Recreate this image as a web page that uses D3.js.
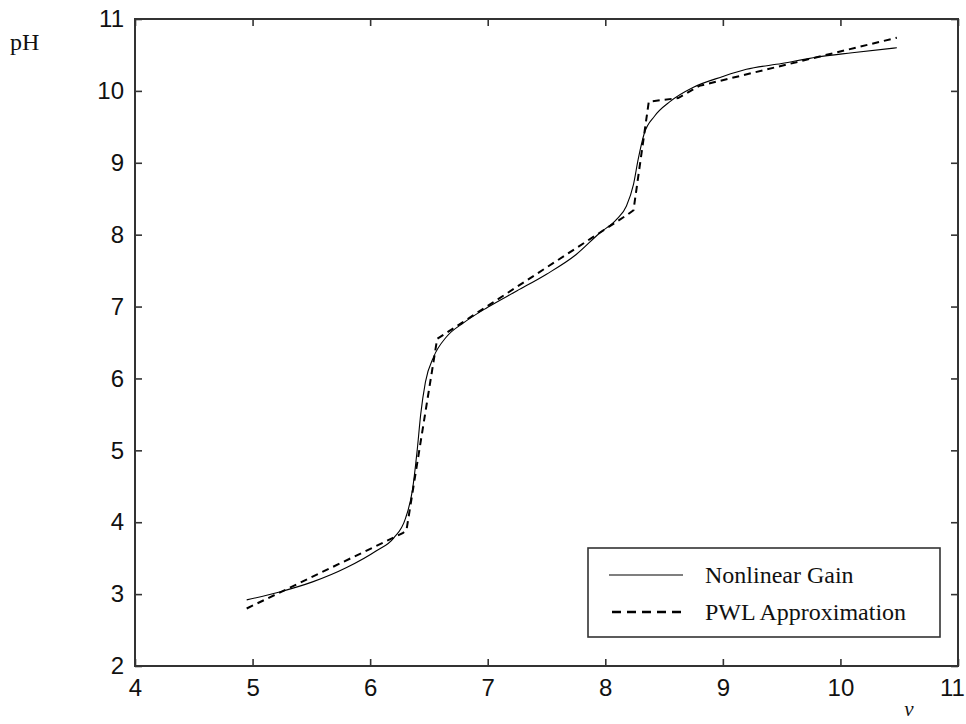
<!DOCTYPE html>
<html>
<head>
<meta charset="utf-8">
<script src="https://cdn.jsdelivr.net/npm/d3@7"></script>
<style>
  body { margin: 0; background: #fff; }
  svg { display: block; }
  .tick text { font-family: "Liberation Sans", Arial, sans-serif; font-size: 24px; fill: #111; }
  .serif { font-family: "Liberation Serif", "Times New Roman", serif; fill: #111; }
</style>
</head>
<body>
<svg width="966" height="724"></svg>
<script>
// plot area
var margin = {top: 19, right: 8, bottom: 58, left: 135};
var width = 966 - margin.left - margin.right;
var height = 724 - margin.top - margin.bottom;

// Nonlinear gain (solid)
var gainV  = [4.95, 5.23, 5.51, 5.80, 6.05, 6.20, 6.30, 6.36, 6.40, 6.43, 6.47, 6.54, 6.65, 6.80,
              7.00, 7.25, 7.50, 7.75, 7.95, 8.10, 8.18, 8.24, 8.28, 8.33, 8.42, 8.55, 8.75, 9.00,
              9.20, 9.50, 9.80, 10.10, 10.48];
var gainPH = [2.92, 3.03, 3.17, 3.37, 3.60, 3.78, 4.05, 4.45, 5.00, 5.50, 5.95, 6.30, 6.58, 6.78,
              6.99, 7.22, 7.45, 7.72, 8.02, 8.22, 8.40, 8.70, 9.05, 9.40, 9.65, 9.85, 10.05, 10.20,
              10.30, 10.38, 10.47, 10.53, 10.60];

// PWL approximation (dashed)
var pwlV  = [4.95, 6.28, 6.31, 6.57, 8.19, 8.24, 8.37, 8.62, 8.80, 10.48];
var pwlPH = [2.80, 3.85, 3.90, 6.55, 8.28, 8.34, 9.85, 9.90, 10.07, 10.74];

var xTicks = [4, 5, 6, 7, 8, 9, 10, 11];
var yTicks = [2, 3, 4, 5, 6, 7, 8, 9, 10, 11];
var legendLabels = ["Nonlinear Gain", "PWL Approximation"];

var svg = d3.select('svg');
svg.append('rect').attr('width', 966).attr('height', 724).attr('fill', '#fff');

var g = svg.append('g')
  .attr('transform', 'translate(' + margin.left + ',' + margin.top + ')');

var xScale = d3.scaleLinear().domain([4, 11]).range([0, width]);
var yScale = d3.scaleLinear().domain([2, 11]).range([height, 0]);

// axes, ticks pointing inward on all four sides
var axisColor = '#333';
function styleAxis(sel) {
  sel.select('.domain').remove();
  sel.selectAll('.tick line').attr('stroke', axisColor).attr('stroke-width', 1.6);
}

var xAxisGroup = g.append('g')
  .attr('transform', 'translate(0,' + height + ')')
  .call(d3.axisBottom(xScale).tickValues(xTicks).tickSize(-7).tickPadding(13).tickFormat(d3.format('d')))
  .call(styleAxis);
// last label sits against the window edge
xAxisGroup.selectAll('.tick text').filter(d => d === 11).attr('dx', -6);

g.append('g')
  .call(d3.axisLeft(yScale).tickValues(yTicks).tickSize(-7).tickPadding(11).tickFormat(d3.format('d')))
  .call(styleAxis);

g.append('g')
  .call(d3.axisTop(xScale).tickValues(xTicks).tickSize(-7).tickFormat(''))
  .call(styleAxis);

g.append('g')
  .attr('transform', 'translate(' + width + ',0)')
  .call(d3.axisRight(yScale).tickValues(yTicks).tickSize(-7).tickFormat(''))
  .call(styleAxis);

g.append('rect')
  .attr('width', width).attr('height', height)
  .attr('fill', 'none').attr('stroke', axisColor).attr('stroke-width', 2);

// curves
var smooth = d3.line().x(d => xScale(d[0])).y(d => yScale(d[1])).curve(d3.curveMonotoneX);
var line = d3.line().x(d => xScale(d[0])).y(d => yScale(d[1]));

g.append('path')
  .datum(gainV.map((v, i) => [v, gainPH[i]]))
  .attr('d', smooth)
  .attr('fill', 'none').attr('stroke', '#000').attr('stroke-width', 1.1);

g.append('path')
  .datum(pwlV.map((v, i) => [v, pwlPH[i]]))
  .attr('d', line)
  .attr('fill', 'none').attr('stroke', '#000').attr('stroke-width', 2)
  .attr('stroke-dasharray', '7,5');

// axis labels
svg.append('text').attr('class', 'serif')
  .attr('x', 10).attr('y', 50).attr('font-size', 24).text('pH');
svg.append('text').attr('class', 'serif')
  .attr('x', 909).attr('y', 716).attr('text-anchor', 'middle')
  .attr('font-size', 21).attr('font-style', 'italic').text('v');

// legend
var leg = svg.append('g').attr('transform', 'translate(588,548)');
leg.append('rect')
  .attr('width', 352).attr('height', 89)
  .attr('fill', '#fff').attr('stroke', axisColor).attr('stroke-width', 1.6);

leg.selectAll('.item')
  .data(legendLabels)
  .enter()
  .append('g')
  .attr('class', 'item')
  .attr('transform', (d, i) => 'translate(0,' + (27 + i * 37) + ')')
  .each(function(d, i) {
    var it = d3.select(this);
    it.append('line')
      .attr('x1', i ? 24 : 21).attr('x2', i ? 97 : 95)
      .attr('stroke', '#000')
      .attr('stroke-width', i ? 2.4 : 1.1)
      .attr('stroke-dasharray', i ? '9,6' : null);
    it.append('text').attr('class', 'serif')
      .attr('x', 117).attr('y', 8).attr('font-size', 24)
      .text(d);
  });
</script>
</body>
</html>
